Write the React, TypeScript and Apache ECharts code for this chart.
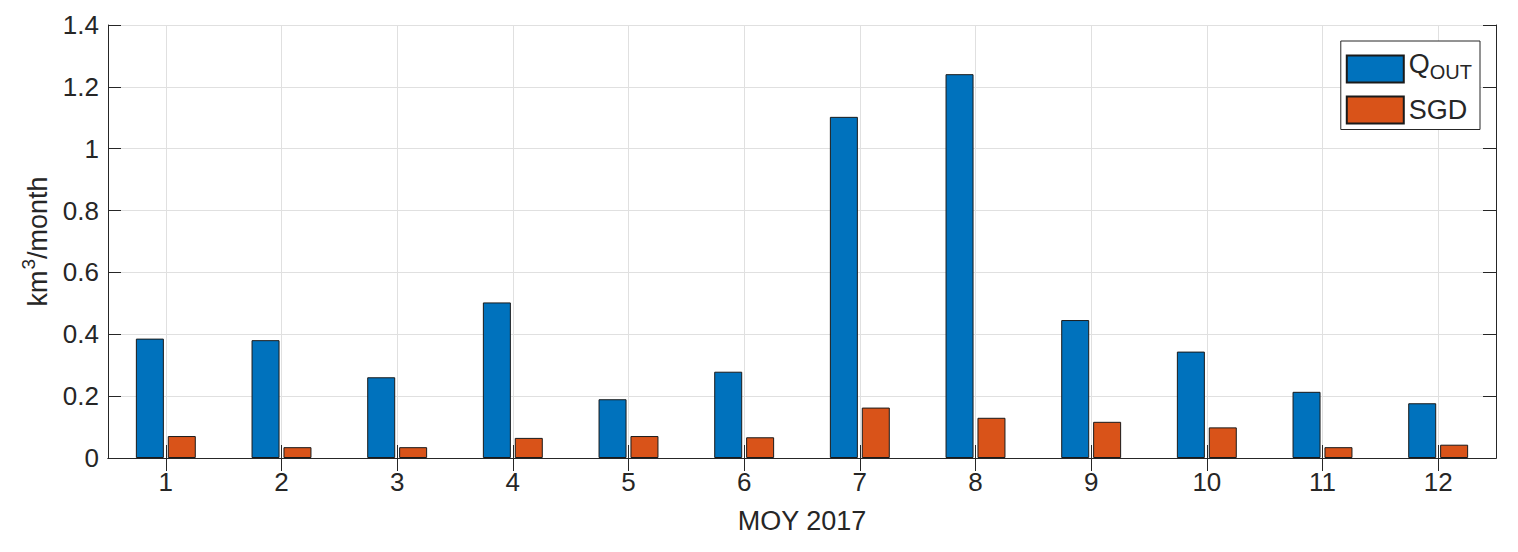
import React, { useEffect, useRef } from "react";
import * as echarts from "echarts";

const months = ["1", "2", "3", "4", "5", "6", "7", "8", "9", "10", "11", "12"];
const halfSteps = ["0.5", "1", "1.5", "2", "2.5", "3", "3.5", "4", "4.5", "5", "5.5", "6", "6.5", "7", "7.5", "8", "8.5", "9", "9.5", "10", "10.5", "11", "11.5", "12", "12.5"];
const qout = [0.386, 0.381, 0.261, 0.503, 0.19, 0.279, 1.103, 1.241, 0.446, 0.344, 0.214, 0.177];
const sgd = [0.071, 0.035, 0.035, 0.065, 0.071, 0.067, 0.163, 0.13, 0.117, 0.099, 0.035, 0.043];

const FONT = "'Liberation Sans', Arial, Helvetica, sans-serif";
const TXT = "#262626";
const GRID = "#e0e0e0";

export default function App() {
  const ref = useRef<HTMLDivElement>(null);
  useEffect(() => {
    if (!ref.current) return;
    const chart = echarts.init(ref.current, null, { renderer: "svg" });
    chart.setOption({
      animation: false,
      textStyle: { fontFamily: FONT },
      grid: { left: 100, right: 14, top: 17, bottom: 86, containLabel: false },
      legend: {
        orient: "vertical",
        right: 30,
        top: 33,
        itemWidth: 57,
        itemHeight: 27,
        itemGap: 12,
        padding: [9, 8, 5, 5],
        backgroundColor: "#ffffff",
        borderColor: TXT,
        borderWidth: 1,
        borderRadius: 0,
        icon: "rect",
        data: ["QOUT", "SGD"],
        formatter: (name: string) => (name === "QOUT" ? "{q|Q}{s|OUT}" : "{n|" + name + "}"),
        textStyle: {
          color: TXT,
          fontFamily: FONT,
          fontSize: 27,
          rich: {
            q: { fontSize: 27, lineHeight: 26, verticalAlign: "bottom", padding: [0, 0, 5, 0], color: TXT, fontFamily: FONT },
            s: { fontSize: 20, lineHeight: 20, verticalAlign: "bottom", color: TXT, fontFamily: FONT },
            n: { fontSize: 27, lineHeight: 28, color: TXT, fontFamily: FONT },
          },
        },
      },
      xAxis: [
        {
          type: "category",
          data: months,
          position: "bottom",
          boundaryGap: true,
          name: "MOY 2017",
          nameLocation: "middle",
          nameGap: 48,
          nameTextStyle: { color: TXT, fontSize: 27, fontFamily: FONT, lineHeight: 30 },
          axisLine: { show: true, lineStyle: { color: TXT, width: 1 } },
          axisTick: { show: true, inside: true, length: 13, alignWithLabel: true, lineStyle: { color: TXT } },
          axisLabel: { color: TXT, fontSize: 26, margin: 11, fontFamily: FONT },
          splitLine: { show: false },
        },
        {
          type: "category",
          data: halfSteps,
          position: "top",
          boundaryGap: false,
          axisLine: { show: true, lineStyle: { color: TXT, width: 1 } },
          axisTick: { show: true, inside: true, length: 13, interval: (i: number) => i % 2 === 1, lineStyle: { color: TXT } },
          axisLabel: { show: false },
          splitLine: { show: true, interval: (i: number) => i % 2 === 1, lineStyle: { color: GRID, width: 1 } },
        },
      ],
      yAxis: [
        {
          type: "value",
          min: 0,
          max: 1.4,
          interval: 0.2,
          position: "left",
          name: "{a|km}{b|3}{a|/month}",
          nameLocation: "middle",
          nameGap: 52,
          nameRotate: 90,
          nameTextStyle: {
            color: TXT,
            fontSize: 27,
            fontFamily: FONT,
            rich: {
              a: { fontSize: 27, lineHeight: 28, verticalAlign: "bottom", color: TXT, fontFamily: FONT },
              b: { fontSize: 19, lineHeight: 20, verticalAlign: "bottom", padding: [0, 0, 14, 1], color: TXT, fontFamily: FONT },
            },
          },
          axisLine: { show: true, lineStyle: { color: TXT, width: 1 } },
          axisTick: { show: true, inside: true, length: 13, lineStyle: { color: TXT } },
          axisLabel: { color: TXT, fontSize: 26, margin: 9, fontFamily: FONT },
          splitLine: { show: true, lineStyle: { color: GRID, width: 1 } },
        },
        {
          type: "value",
          min: 0,
          max: 1.4,
          interval: 0.2,
          position: "right",
          axisLine: { show: true, lineStyle: { color: TXT, width: 1 } },
          axisTick: { show: true, inside: true, length: 13, lineStyle: { color: TXT } },
          axisLabel: { show: false },
          splitLine: { show: false },
        },
      ],
      series: [
        {
          name: "QOUT",
          type: "bar",
          xAxisIndex: 0,
          yAxisIndex: 0,
          data: qout,
          barWidth: 28,
          barGap: "14%",
          itemStyle: { color: "#0072BD", borderColor: "#1a1a1a", borderWidth: 1 },
        },
        {
          name: "SGD",
          type: "bar",
          xAxisIndex: 0,
          yAxisIndex: 0,
          data: sgd,
          barWidth: 28,
          barGap: "14%",
          itemStyle: { color: "#D95319", borderColor: "#1a1a1a", borderWidth: 1 },
        },
      ],
    });
    return () => chart.dispose();
  }, []);
  return <div ref={ref} style={{ width: 1502, height: 536 }} />;
}
